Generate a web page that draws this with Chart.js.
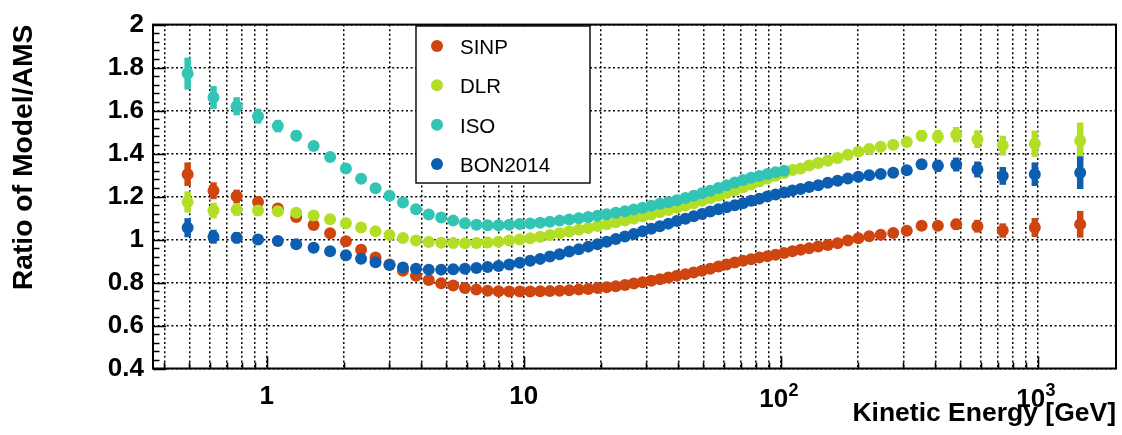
<!DOCTYPE html>
<html><head><meta charset="utf-8">
<script src="https://cdn.jsdelivr.net/npm/chart.js@4.4.0/dist/chart.umd.min.js"></script>
<style>html,body{margin:0;padding:0;background:#fff;}canvas{display:block;}</style>
</head><body>
<canvas id="c" width="1122" height="435"></canvas>
<script>
// Kinetic energy (GeV) of each AMS bin
const energy = [0.4924,0.6207,0.7637,0.9252,1.1049,1.3026,1.5226,1.7648,2.0337,2.3293,
  2.6515,3.0050,3.3897,3.8103,4.2719,4.7743,5.3175,5.9063,6.5458,7.2358,
  7.9812,8.7871,9.6534,10.600,11.597,12.644,13.792,15.039,16.387,17.835,
  19.383,21.032,22.830,24.779,26.828,29.026,31.375,33.874,36.574,39.473,
  42.572,45.871,49.421,53.220,57.269,61.619,66.318,71.368,76.767,82.567,
  88.817,95.566,103.07,111.07,119.57,129.07,140.07,152.57,166.56,182.56,
  200.56,221.06,245.06,274.06,309.56,353.56,409.06,482.06,583.06,731.56,
  975.06,1464.1];
const sinp = [1.304,1.227,1.201,1.175,1.144,1.105,1.068,1.029,0.992,0.952,
  0.916,0.884,0.855,0.832,0.812,0.797,0.786,0.775,0.767,0.762,
  0.759,0.758,0.758,0.758,0.759,0.760,0.762,0.764,0.767,0.770,
  0.774,0.778,0.783,0.789,0.795,0.801,0.808,0.815,0.823,0.831,
  0.838,0.847,0.855,0.864,0.875,0.884,0.893,0.901,0.908,0.916,
  0.922,0.929,0.937,0.945,0.952,0.960,0.968,0.975,0.983,0.995,
  1.006,1.015,1.022,1.030,1.041,1.064,1.064,1.071,1.062,1.042,
  1.056,1.071];
const dlr = [1.175,1.135,1.140,1.135,1.132,1.125,1.112,1.094,1.076,1.056,
  1.038,1.021,1.007,0.995,0.988,0.985,0.984,0.983,0.984,0.986,
  0.990,0.995,1.000,1.006,1.013,1.021,1.029,1.037,1.045,1.054,
  1.063,1.071,1.080,1.089,1.098,1.107,1.117,1.127,1.137,1.148,
  1.158,1.169,1.180,1.192,1.204,1.216,1.229,1.243,1.256,1.270,
  1.284,1.297,1.310,1.324,1.331,1.344,1.356,1.367,1.379,1.394,
  1.409,1.421,1.432,1.441,1.454,1.483,1.479,1.488,1.467,1.437,
  1.446,1.460];
const iso = [1.772,1.661,1.620,1.574,1.528,1.483,1.435,1.384,1.330,1.283,
  1.239,1.204,1.172,1.141,1.117,1.103,1.088,1.076,1.069,1.067,
  1.067,1.069,1.072,1.075,1.078,1.083,1.088,1.093,1.099,1.105,
  1.111,1.118,1.125,1.132,1.140,1.148,1.157,1.166,1.174,1.183,
  1.193,1.204,1.215,1.227,1.240,1.253,1.265,1.277,1.287,1.296,
  1.305,1.313,1.320];
const bon2014 = [1.055,1.013,1.008,1.000,0.993,0.978,0.962,0.945,0.927,0.911,
  0.894,0.881,0.870,0.864,0.860,0.860,0.862,0.864,0.868,0.872,
  0.877,0.884,0.892,0.901,0.910,0.921,0.932,0.944,0.955,0.967,
  0.978,0.990,1.002,1.014,1.026,1.038,1.050,1.062,1.074,1.086,
  1.097,1.108,1.119,1.130,1.141,1.150,1.159,1.169,1.180,1.190,
  1.200,1.210,1.219,1.228,1.235,1.244,1.253,1.264,1.274,1.284,
  1.292,1.299,1.305,1.311,1.322,1.350,1.343,1.349,1.326,1.296,
  1.304,1.311];
// relative uncertainty of the AMS measurement in each bin
const relErr = [0.042,0.032,0.026,0.022,0.019,0.017,0.015,0.013,0.012,0.011,
  0.010,0.010,0.010,0.010,0.010,0.010,0.010,0.010,0.010,0.010,
  0.010,0.010,0.010,0.010,0.010,0.010,0.010,0.010,0.010,0.010,
  0.010,0.010,0.010,0.010,0.010,0.010,0.010,0.010,0.010,0.010,
  0.010,0.010,0.010,0.010,0.010,0.010,0.010,0.010,0.010,0.010,
  0.010,0.010,0.010,0.010,0.010,0.010,0.010,0.010,0.010,0.010,
  0.010,0.010,0.013,0.014,0.016,0.018,0.021,0.024,0.028,0.032,
  0.042,0.058];
const seriesNames = ['SINP','DLR','ISO','BON2014'];
const seriesColors = ['#CF4510','#B2DE26','#32C4B4','#0C5EB0'];
const xGridTicks = [0.4,0.5,0.6,0.7,0.8,0.9,1,2,3,4,5,6,7,8,9,10,20,30,40,50,60,70,80,90,
  100,200,300,400,500,600,700,800,900,1000];
const xLabelValues = [1,10,100,1000];
const xLabelBase = ['1','10','10','10'];
const xLabelExp = ['','','2','3'];
const yTicks = [0.4,0.6,0.8,1,1.2,1.4,1.6,1.8,2];

const FONT = '"Liberation Sans", Arial, Helvetica, sans-serif';
const seriesValues = [sinp, dlr, iso, bon2014];

const datasets = seriesValues.map((vals, k) => ({
  label: seriesNames[k],
  data: vals.map((v, i) => ({x: energy[i], y: v})),
  backgroundColor: seriesColors[k],
  borderColor: seriesColors[k],
  pointRadius: 6, pointHoverRadius: 6, pointBorderWidth: 0,
  showLine: false,
  order: 4 - k
}));

const errorBars = {
  id: 'errorBars',
  afterDatasetDraw(chart, args) {
    const ds = chart.data.datasets[args.index];
    const xs = chart.scales.x, ys = chart.scales.y, ctx = chart.ctx;
    ctx.save();
    ctx.strokeStyle = ds.borderColor; ctx.lineWidth = 6.5; ctx.lineCap = 'butt';
    ds.data.forEach((p, i) => {
      const e = p.y * relErr[i];
      const x = xs.getPixelForValue(p.x);
      ctx.beginPath();
      ctx.moveTo(x, ys.getPixelForValue(p.y - e));
      ctx.lineTo(x, ys.getPixelForValue(p.y + e));
      ctx.stroke();
    });
    ctx.restore();
  }
};

const frameTicks = {
  id: 'frameTicks',
  afterDatasetsDraw(chart) {
    const {ctx, chartArea: a, scales: {x: xs, y: ys}} = chart;
    ctx.save();
    ctx.strokeStyle = '#000'; ctx.lineWidth = 1.6;
    ctx.beginPath();
    xGridTicks.forEach(v => {
      const px = Math.round(xs.getPixelForValue(v)) + 0.5;
      const len = xLabelValues.includes(v) ? 12 : 6;
      ctx.moveTo(px, a.bottom); ctx.lineTo(px, a.bottom - len);
    });
    for (let k = 0; k <= 40; k++) {
      const py = Math.round(ys.getPixelForValue(0.4 + k * 0.04)) + 0.5;
      const len = (k % 5 === 0) ? 13 : 6.5;
      ctx.moveTo(a.left, py); ctx.lineTo(a.left + len, py);
    }
    ctx.stroke();
    ctx.lineWidth = 2;
    ctx.strokeRect(a.left, a.top, a.right - a.left, a.bottom - a.top);
    // decade labels with an exponent (10^2, 10^3)
    ctx.fillStyle = '#000'; ctx.textBaseline = 'alphabetic'; ctx.textAlign = 'left';
    xLabelValues.forEach((v, i) => {
      if (!xLabelExp[i]) return;
      const px = xs.getPixelForValue(v);
      ctx.font = 'bold 26px ' + FONT;
      const w1 = ctx.measureText(xLabelBase[i]).width;
      ctx.font = 'bold 18px ' + FONT;
      const w2 = ctx.measureText(xLabelExp[i]).width;
      const x0 = px - (w1 + w2) / 2 - 2;
      ctx.font = 'bold 26px ' + FONT;
      ctx.fillText(xLabelBase[i], x0, a.bottom + 38);
      ctx.font = 'bold 18px ' + FONT;
      ctx.fillText(xLabelExp[i], x0 + w1 + 0.5, a.bottom + 27);
    });
    ctx.restore();
  }
};

const legendBox = {
  id: 'legendBox',
  afterDraw(chart) {
    const ctx = chart.ctx;
    ctx.save();
    ctx.fillStyle = '#fff'; ctx.fillRect(416, 26, 174, 157);
    ctx.strokeStyle = '#000'; ctx.lineWidth = 1.4; ctx.strokeRect(416, 26, 174, 157);
    ctx.font = '20.5px ' + FONT; ctx.textBaseline = 'alphabetic';
    chart.data.datasets.forEach((ds, i) => {
      const cy = 45.9 + i * 39.4;
      ctx.fillStyle = ds.backgroundColor;
      ctx.beginPath(); ctx.arc(437, cy, 6, 0, Math.PI * 2); ctx.fill();
      ctx.fillStyle = '#000';
      ctx.fillText(ds.label, 460, cy + 8);
    });
    ctx.restore();
  }
};

new Chart(document.getElementById('c'), {
  type: 'scatter',
  data: {datasets},
  options: {
    responsive: false, animation: false, devicePixelRatio: 1,
    layout: {padding: {left: 0, right: 6, top: 18.5, bottom: 0}},
    plugins: {legend: {display: false}, tooltip: {enabled: false}},
    scales: {
      x: {
        type: 'logarithmic', min: 0.361, max: 2018, position: 'bottom',
        afterBuildTicks: s => { s.ticks = xGridTicks.map(v => ({value: v})); },
        afterFit: s => { s.height = 66.5; },
        ticks: {
          autoSkip: false, maxRotation: 0, minRotation: 0, padding: 13, color: '#000',
          font: {family: FONT, size: 26, weight: 'bold'},
          callback: v => { const i = xLabelValues.indexOf(v); return (i >= 0 && !xLabelExp[i]) ? xLabelBase[i] : ''; }
        },
        grid: {color: '#000', lineWidth: 1.5, drawTicks: false},
        border: {display: false, dash: [2, 2.6]},
        title: {display: true, text: 'Kinetic Energy [GeV]', align: 'end', color: '#000',
          font: {family: FONT, size: 26.5, weight: 'bold'}, padding: {top: 0, bottom: 5}}
      },
      y: {
        min: 0.4, max: 2,
        afterBuildTicks: s => { s.ticks = yTicks.map(v => ({value: v})); },
        afterFit: s => { s.width = 153; },
        ticks: {padding: 9, color: '#000', font: {family: FONT, size: 26, weight: 'bold'},
          callback: v => String(+v.toFixed(1))},
        grid: {color: '#000', lineWidth: 1.5, drawTicks: false},
        border: {display: false, dash: [2, 2.6]},
        title: {display: true, text: 'Ratio of Model/AMS', align: 'end', color: '#000',
          font: {family: FONT, size: 28.3, weight: 'bold'}, padding: {top: 7, bottom: 0}}
      }
    }
  },
  plugins: [errorBars, frameTicks, legendBox]
});
</script>
</body></html>
